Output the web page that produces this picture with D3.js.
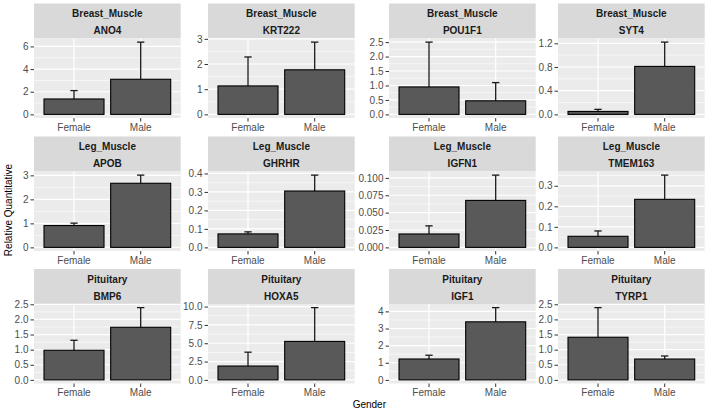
<!DOCTYPE html>
<html><head><meta charset="utf-8">
<script src="https://cdn.jsdelivr.net/npm/d3@7"></script>
<style>body{margin:0;background:#fff} svg{display:block} text{font-family:"Liberation Sans",Arial,sans-serif}</style>
</head><body><svg id="chart" width="708" height="414"></svg>
<script>
const tissues = ["Breast_Muscle","Breast_Muscle","Breast_Muscle","Breast_Muscle",
                 "Leg_Muscle","Leg_Muscle","Leg_Muscle","Leg_Muscle",
                 "Pituitary","Pituitary","Pituitary","Pituitary"];
const genes = ["ANO4","KRT222","POU1F1","SYT4","APOB","GHRHR","IGFN1","TMEM163","BMP6","HOXA5","IGF1","TYRP1"];
const genders = ["Female","Male"];
const femaleMean = [1.36, 1.13, 0.95, 0.05, 0.91, 0.073, 0.0193, 0.054, 0.98, 1.89, 1.22, 1.41];
const femaleSD   = [0.74, 1.15, 1.55, 0.035, 0.10, 0.011, 0.0117, 0.026, 0.33, 1.89, 0.22, 0.98];
const maleMean   = [3.10, 1.77, 0.47, 0.81, 2.67, 0.305, 0.0676, 0.234, 1.74, 5.25, 3.39, 0.69];
const maleSD     = [3.28, 1.10, 0.63, 0.41, 0.34, 0.086, 0.0364, 0.118, 0.65, 4.61, 0.83, 0.10];
const yTickLabels = [
  ["0","2","4","6"],
  ["0","1","2","3"],
  ["0.0","0.5","1.0","1.5","2.0","2.5"],
  ["0.0","0.4","0.8","1.2"],
  ["0","1","2","3"],
  ["0.0","0.1","0.2","0.3","0.4"],
  ["0.000","0.025","0.050","0.075","0.100"],
  ["0.0","0.1","0.2","0.3"],
  ["0.0","0.5","1.0","1.5","2.0","2.5"],
  ["0.0","2.5","5.0","7.5","10.0"],
  ["0","1","2","3","4"],
  ["0.0","0.5","1.0","1.5","2.0","2.5"]
];
const xTitle = "Gender";
const yTitle = "Relative Quantitative";

// layout
const colLeft = [34, 208, 389, 558];
const rowTop = [3.5, 136.5, 269];
const panelW = 146.7, stripH = 35, panelH = 79.5;
const fs = 10;

const svg = d3.select("#chart");

genes.forEach((gene, i) => {
  const c = i % 4, r = Math.floor(i / 4);
  const g = svg.append("g").attr("transform", `translate(${colLeft[c]},${rowTop[r]})`);
  const rows = [
    {gender: genders[0], mean: femaleMean[i], sd: femaleSD[i]},
    {gender: genders[1], mean: maleMean[i], sd: maleSD[i]}
  ];
  const ymax = d3.max(rows, d => d.mean + d.sd);
  const y = d3.scaleLinear().domain([-0.05 * ymax, ymax * 1.05]).range([stripH + panelH, stripH]);
  const x = d3.scaleBand().domain(genders).range([0, panelW]).paddingInner(0.1).paddingOuter(0.15);
  const labels = yTickLabels[i];
  const vals = labels.map(Number);
  const step = vals[1] - vals[0];
  const minors = [];
  for (let k = 0; k < vals.length; k++) {
    const m = vals[k] + step / 2;
    if (m <= y.domain()[1]) minors.push(m);
  }
  if (vals[0] - step / 2 >= y.domain()[0]) minors.push(vals[0] - step / 2);

  // strip
  g.append("rect").attr("x", 0).attr("y", 0).attr("width", panelW).attr("height", stripH).attr("fill", "#D9D9D9");
  g.append("text").attr("x", panelW / 2).attr("y", 10 + fs * 0.35).attr("text-anchor", "middle")
    .attr("font-size", fs).attr("font-weight", "bold").attr("fill", "#1A1A1A").text(tissues[i]);
  g.append("text").attr("x", panelW / 2).attr("y", 27.2 + fs * 0.35).attr("text-anchor", "middle")
    .attr("font-size", fs).attr("font-weight", "bold").attr("fill", "#1A1A1A").text(gene);

  // panel
  g.append("rect").attr("x", 0).attr("y", stripH).attr("width", panelW).attr("height", panelH).attr("fill", "#EBEBEB");
  g.selectAll(".minor").data(minors).enter().append("line")
    .attr("x1", 0).attr("x2", panelW).attr("y1", d => y(d)).attr("y2", d => y(d))
    .attr("stroke", "#fff").attr("stroke-width", 0.6);
  g.selectAll(".major").data(vals).enter().append("line")
    .attr("x1", 0).attr("x2", panelW).attr("y1", d => y(d)).attr("y2", d => y(d))
    .attr("stroke", "#fff").attr("stroke-width", 1.2);
  g.selectAll(".vmajor").data(genders).enter().append("line")
    .attr("x1", d => x(d) + x.bandwidth() / 2).attr("x2", d => x(d) + x.bandwidth() / 2)
    .attr("y1", stripH).attr("y2", stripH + panelH)
    .attr("stroke", "#fff").attr("stroke-width", 1.2);

  // error bars
  const capW = x.step() * 0.11;
  rows.forEach(d => {
    const cx = x(d.gender) + x.bandwidth() / 2;
    g.append("line").attr("x1", cx).attr("x2", cx).attr("y1", y(d.mean)).attr("y2", y(d.mean + d.sd))
      .attr("stroke", "#1a1a1a").attr("stroke-width", 1.3);
    g.append("line").attr("x1", cx - capW / 2).attr("x2", cx + capW / 2)
      .attr("y1", y(d.mean + d.sd)).attr("y2", y(d.mean + d.sd))
      .attr("stroke", "#1a1a1a").attr("stroke-width", 1.3);
  });

  // bars
  g.selectAll(".bar").data(rows).enter().append("rect")
    .attr("x", d => x(d.gender)).attr("width", x.bandwidth())
    .attr("y", d => y(d.mean)).attr("height", d => y(0) - y(d.mean))
    .attr("fill", "#595959").attr("stroke", "#000").attr("stroke-width", 1.1);

  // axes
  const ya = g.append("g").call(d3.axisLeft(y).tickValues(vals).tickFormat((d, k) => labels[k]).tickSize(3.5).tickPadding(2));
  const xa = g.append("g").attr("transform", `translate(0,${stripH + panelH})`)
    .call(d3.axisBottom(x).tickSize(3.5).tickPadding(2));
  [ya, xa].forEach(a => {
    a.select(".domain").remove();
    a.selectAll(".tick line").attr("stroke", "#333333").attr("stroke-width", 1);
    a.selectAll(".tick text").attr("fill", "#4D4D4D").attr("font-size", fs)
      .attr("font-family", '"Liberation Sans",Arial,sans-serif');
  });
});

// axis titles
svg.append("text").attr("x", (colLeft[0] + colLeft[3] + panelW) / 2).attr("y", 407.5)
  .attr("text-anchor", "middle").attr("font-size", fs).attr("fill", "#000").text(xTitle);
svg.append("text").attr("transform", "translate(11.5,210) rotate(-90)")
  .attr("text-anchor", "middle").attr("font-size", fs).attr("fill", "#000").text(yTitle);
</script></body></html>
